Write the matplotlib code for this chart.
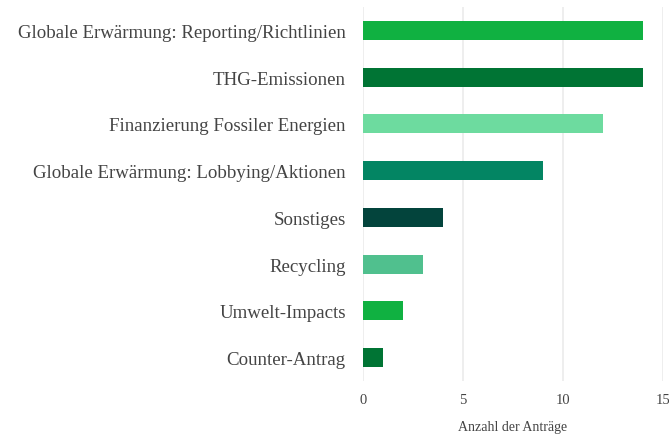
import matplotlib
matplotlib.use('Agg')
import matplotlib.pyplot as plt
import numpy as np

# data (top to bottom)
kategorien = [
    'Globale Erwärmung: Reporting/Richtlinien',
    'THG-Emissionen',
    'Finanzierung Fossiler Energien',
    'Globale Erwärmung: Lobbying/Aktionen',
    'Sonstiges',
    'Recycling',
    'Umwelt-Impacts',
    'Counter-Antrag',
]
anzahl = [14, 14, 12, 9, 4, 3, 2, 1]
farben = ['#10b141', '#007434', '#6ddb9f', '#038563',
          '#03443c', '#50c08e', '#10b141', '#007434']
x_ticks = [0, 5, 10, 15]

plt.rcParams['font.family'] = ['Liberation Serif', 'DejaVu Serif']

fig = plt.figure(figsize=(6.69, 4.35), dpi=100)
ax = fig.add_axes([363 / 669, 53 / 435, 300 / 669, 374 / 435])

y = np.arange(len(kategorien))
ax.barh(y, anzahl, height=0.41, color=farben, zorder=2)

ax.set_xlim(0, 15)
ax.set_ylim(len(kategorien) - 0.5, -0.5)
ax.set_yticks(y)
ax.set_yticklabels(kategorien, fontsize=13.6, color='#444444')
ax.set_xticks(x_ticks)
ax.set_xticklabels([str(t) for t in x_ticks], fontsize=10.5, color='#444444')
ax.tick_params(axis='y', length=0, pad=12.5)
ax.tick_params(axis='x', length=0, pad=9)
ax.set_xlabel('Anzahl der Anträge', fontsize=10, color='#444444', labelpad=10)

ax.grid(axis='x', color='#ebebeb', linewidth=1.2, zorder=0)
for s in ax.spines.values():
    s.set_visible(False)

fig.savefig('out.png', dpi=100)
